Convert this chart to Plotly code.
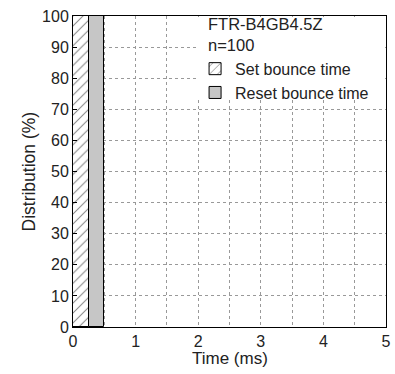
import plotly.graph_objects as go

# bounce time distribution
series = ["Set bounce time", "Reset bounce time"]
bin_left = [0.0, 0.25]
bin_width = [0.25, 0.25]
dist = [100, 100]

title_txt = "FTR-B4GB4.5Z<br>n=100"

fig = go.Figure()
fig.add_trace(go.Bar(
    name=series[0], x=[bin_left[0] + bin_width[0] / 2], y=[dist[0]], width=[bin_width[0]],
    marker=dict(color="white", line=dict(color="black", width=1),
                pattern=dict(shape="/", fgcolor="#111", bgcolor="white", size=7, solidity=0.15)),
))
fig.add_trace(go.Bar(
    name=series[1], x=[bin_left[1] + bin_width[1] / 2], y=[dist[1]], width=[bin_width[1]],
    marker=dict(color="#c6c6c6", line=dict(color="black", width=1)),
))

fnt = dict(family="Liberation Sans, Arial, sans-serif", size=16, color="#222")
fig.update_layout(
    width=395, height=374,
    margin=dict(l=73, r=9, t=16, b=47),
    paper_bgcolor="white", plot_bgcolor="white",
    font=fnt, bargap=0, showlegend=True,
    legend=dict(x=0.39, y=0.885, xanchor="left", yanchor="top", bgcolor="rgba(0,0,0,0)",
                borderwidth=0, font=dict(size=16), tracegroupgap=0,
                itemwidth=30),
    shapes=[dict(type="rect", xref="paper", yref="paper", x0=0.395, x1=0.997,
                 y0=0.73, y1=0.997, fillcolor="white", line=dict(width=0), layer="above")],
    annotations=[
        dict(text=title_txt, xref="paper", yref="paper", x=0.425, y=1, yshift=3,
             showarrow=False, xanchor="left", yanchor="top", align="left",
             font=dict(size=16.5)),
        dict(text="Time (ms)", xref="paper", yref="paper", x=0.5, y=0, yshift=-31,
             showarrow=False, yanchor="middle", font=dict(size=17)),
        dict(text="Distribution (%)", xref="paper", yref="paper", x=0, y=0.5, xshift=-45,
             showarrow=False, textangle=-90, xanchor="center", font=dict(size=17.5)),
    ],
)
fig.update_xaxes(range=[0, 5], dtick=1, tick0=0, showgrid=True, gridcolor="#999",
                 griddash="dot", gridwidth=1, automargin=False,
                 minor=dict(dtick=0.5, showgrid=True, gridcolor="#999", griddash="dot"),
                 showline=True, linecolor="black", linewidth=1, mirror=True,
                 ticks="", zeroline=False)
fig.update_yaxes(range=[0, 100], dtick=10, showgrid=True, gridcolor="#999",
                 griddash="dot", gridwidth=1, automargin=False,
                 showline=True, linecolor="black", linewidth=1, mirror=True,
                 ticks="inside", ticklen=4, tickcolor="black", zeroline=False)

fig.write_html("out.html", config={"displayModeBar": False},
               post_script="document.body.style.margin='0';")
